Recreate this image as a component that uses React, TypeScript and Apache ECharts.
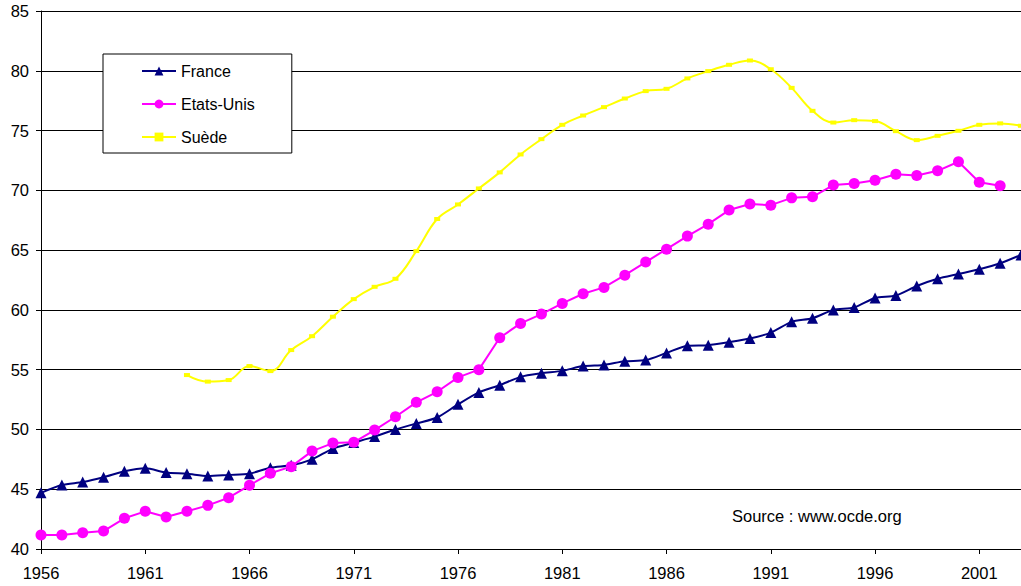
import React, { useEffect, useRef } from "react";
import * as echarts from "echarts";

// Années 1956 à 2003
const years: string[] = [];
for (let y = 1956; y <= 2003; y++) years.push(String(y));

const france = [
  44.7, 45.35, 45.6, 46.0, 46.5, 46.75, 46.4, 46.3, 46.1, 46.2,
  46.3, 46.8, 47.0, 47.5, 48.4, 48.9, 49.4, 50.0, 50.5, 51.0,
  52.1, 53.1, 53.7, 54.4, 54.7, 54.9, 55.3, 55.4, 55.7, 55.8,
  56.4, 57.0, 57.05, 57.3, 57.6, 58.1, 59.0, 59.3, 60.0, 60.2,
  61.0, 61.2, 62.0, 62.6, 63.0, 63.4, 63.9, 64.6,
];

const etatsUnis = [
  41.17, 41.17, 41.36, 41.5, 42.57, 43.15, 42.68, 43.15, 43.65, 44.29,
  45.33, 46.33, 46.89, 48.19, 48.86, 48.92, 49.95, 51.06, 52.27, 53.15,
  54.35, 55.0, 57.67, 58.87, 59.65, 60.54, 61.35, 61.88, 62.9, 64.0,
  65.08, 66.17, 67.17, 68.35, 68.85, 68.76, 69.37, 69.46, 70.44, 70.58,
  70.85, 71.35, 71.24, 71.63, 72.39, 70.68, 70.38, null,
];

const suede = [
  null, null, null, null, null, null, null, 54.55, 54.0, 54.13,
  55.3, 54.88, 56.64, 57.8, 59.43, 60.9, 61.93, 62.6, 64.92, 67.6,
  68.82, 70.16, 71.5, 73.0, 74.28, 75.48, 76.26, 76.96, 77.68, 78.3,
  78.49, 79.36, 79.97, 80.5, 80.86, 80.13, 78.57, 76.65, 75.67, 75.87,
  75.79, 74.95, 74.2, 74.56, 74.98, 75.48, 75.6, 75.4,
];

const FONT = "'Liberation Sans', Arial, sans-serif";

export default function App() {
  const ref = useRef<HTMLDivElement>(null);

  useEffect(() => {
    if (!ref.current) return;
    const chart = echarts.init(ref.current, undefined, { renderer: "svg" });
    chart.setOption({
      animation: false,
      backgroundColor: "#fff",
      textStyle: { fontFamily: FONT },
      grid: { left: 41, top: 11, right: -4, bottom: 37, containLabel: false },
      legend: {
        orient: "vertical",
        left: 103,
        top: 54,
        borderColor: "#000",
        borderWidth: 1,
        backgroundColor: "#fff",
        padding: [9, 37, 8, 38],
        itemGap: 17,
        itemWidth: 34,
        itemHeight: 11,
        textStyle: { fontSize: 16, color: "#000", fontFamily: FONT },
        data: ["France", "Etats-Unis", "Suède"],
      },
      xAxis: {
        type: "category",
        data: years,
        boundaryGap: false,
        axisLine: { lineStyle: { color: "#000", width: 1 } },
        axisTick: { interval: 4, length: 5, lineStyle: { color: "#000" } },
        axisLabel: { interval: 4, fontSize: 16.5, color: "#000", margin: 15, fontFamily: FONT },
        splitLine: { show: false },
      },
      yAxis: {
        type: "value",
        min: 40,
        max: 85,
        interval: 5,
        axisLine: { show: true, lineStyle: { color: "#000", width: 1 } },
        axisTick: { show: true, length: 5, lineStyle: { color: "#000" } },
        axisLabel: { fontSize: 16.5, color: "#000", margin: 12, fontFamily: FONT },
        splitLine: { show: true, lineStyle: { color: "#000", width: 1 } },
      },
      series: [
        {
          name: "France",
          type: "line",
          data: france,
          smooth: 0.25,
          symbol: "triangle",
          symbolSize: 11,
          lineStyle: { color: "#000080", width: 2 },
          itemStyle: { color: "#000080" },
        },
        {
          name: "Etats-Unis",
          type: "line",
          data: etatsUnis,
          symbol: "circle",
          symbolSize: 11,
          lineStyle: { color: "#FF00FF", width: 2 },
          itemStyle: { color: "#FF00FF" },
        },
        {
          name: "Suède",
          type: "line",
          data: suede,
          smooth: 0.4,
          symbol: "rect",
          symbolSize: [6, 4],
          lineStyle: { color: "#FFFF00", width: 2 },
          itemStyle: { color: "#FFFF00" },
        },
      ],
      graphic: [
        {
          type: "text",
          left: 732,
          top: 507,
          style: { text: "Source : www.ocde.org", fontSize: 16.5, fill: "#000", fontFamily: FONT },
        },
      ],
    });
    return () => chart.dispose();
  }, []);

  return (
    <div
      ref={ref}
      style={{ position: "fixed", left: 0, top: 0, width: 1021, height: 586 }}
    />
  );
}
